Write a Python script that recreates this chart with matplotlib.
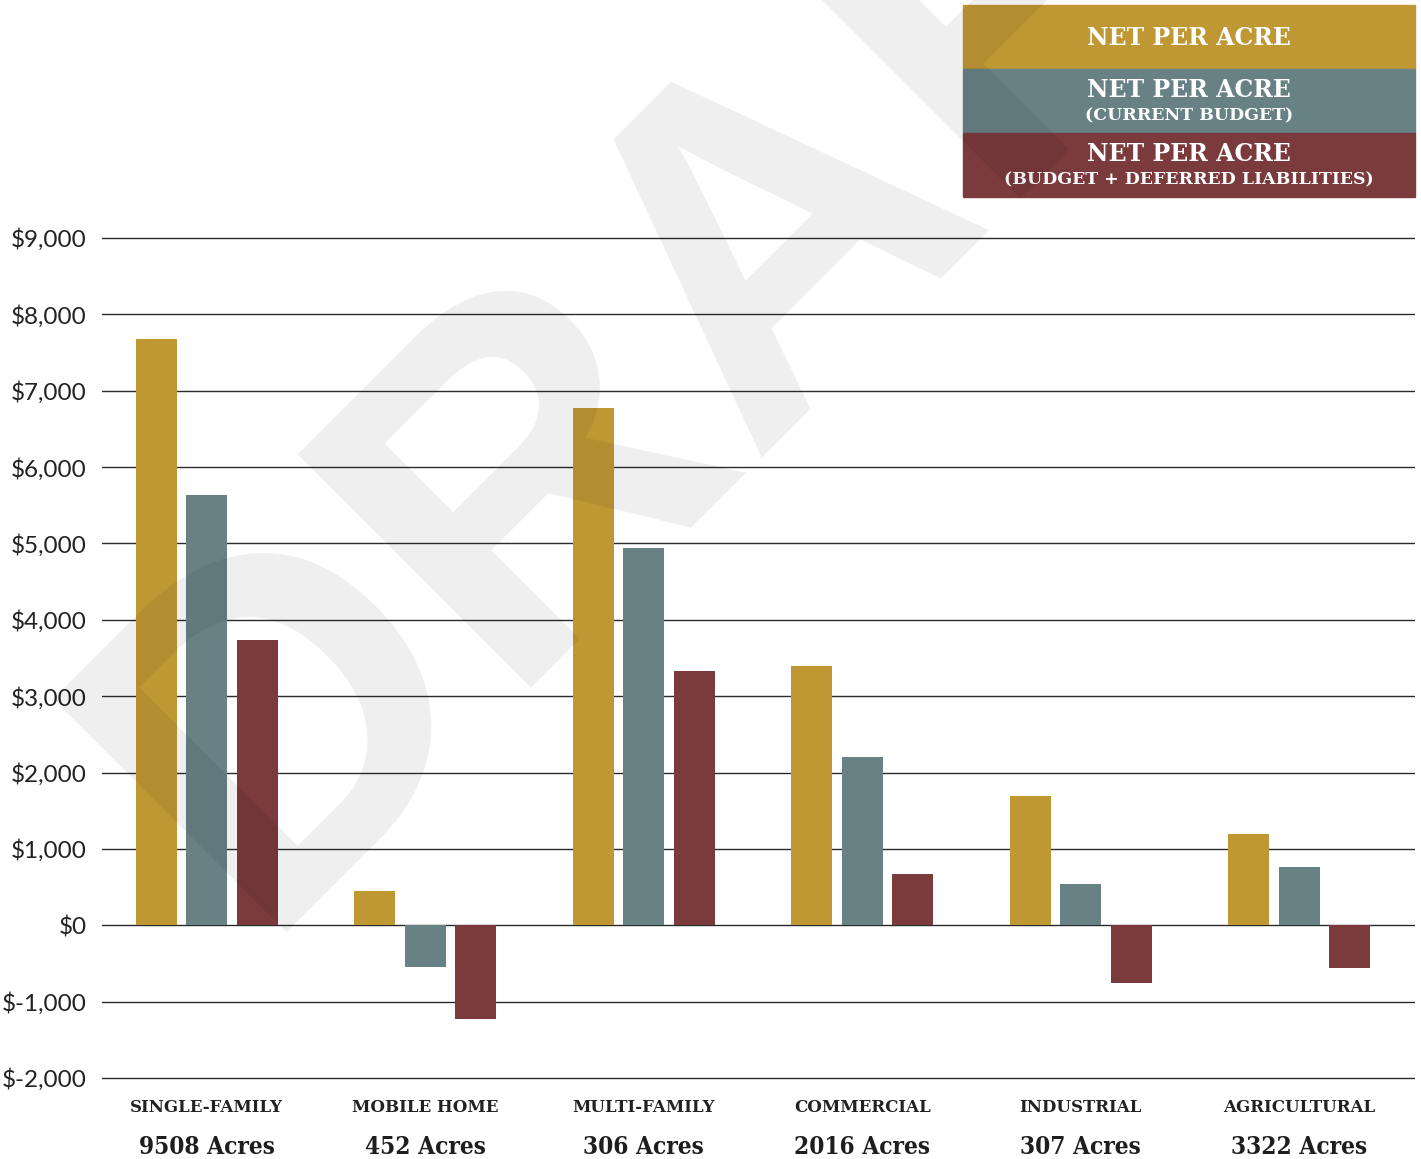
import matplotlib
matplotlib.use("Agg")
import matplotlib.pyplot as plt
import numpy as np
from matplotlib.patches import Rectangle
from matplotlib.transforms import blended_transform_factory

categories = ["SINGLE-FAMILY", "MOBILE HOME", "MULTI-FAMILY", "COMMERCIAL", "INDUSTRIAL", "AGRICULTURAL"]
acres = ["9508 Acres", "452 Acres", "306 Acres", "2016 Acres", "307 Acres", "3322 Acres"]
net_per_acre = [7680, 445, 6775, 3395, 1690, 1190]
net_current_budget = [5630, -550, 4940, 2200, 540, 760]
net_deferred = [3735, -1230, 3330, 670, -760, -565]
yticks = [-2000, -1000, 0, 1000, 2000, 3000, 4000, 5000, 6000, 7000, 8000, 9000]
ytick_labels = ["$-2,000", "$-1,000", "$0", "$1,000", "$2,000", "$3,000", "$4,000",
                "$5,000", "$6,000", "$7,000", "$8,000", "$9,000"]
legend_titles = ["NET PER ACRE", "NET PER ACRE", "NET PER ACRE"]
legend_subtitles = ["", "(CURRENT BUDGET)", "(BUDGET + DEFERRED LIABILITIES)"]

GOLD = "#BF9733"
TEAL = "#688185"
RED = "#7B3A3C"
colors = [GOLD, TEAL, RED]

W, H = 1421, 1159
fig = plt.figure(figsize=(W / 100, H / 100), dpi=100)
# axes: $9,000 at y=238 px, $-2,000 at y=1078 px; padded by 10 px each side
ppu = (1078 - 238) / 11000.0
pad_units = 10 / ppu
ax = fig.add_axes([102 / W, 1 - 1088 / H, (1415 - 102) / W, (1088 - 228) / H])

x = np.arange(len(categories))
bw = 0.188
off = 0.231
for i, (vals, c) in enumerate(zip([net_per_acre, net_current_budget, net_deferred], colors)):
    ax.bar(x + (i - 1) * off, vals, width=bw, color=c, zorder=3)

ax.set_xlim(-0.48, 5.53)
ax.set_ylim(-2000 - pad_units, 9000 + pad_units)
ax.set_yticks(yticks)
ax.set_yticklabels(ytick_labels, fontfamily="Lato", fontsize=17.5, color="#222222")
ax.tick_params(axis="y", length=0, pad=11)
ax.set_xticks([])
ax.yaxis.grid(True, color="#2a2a2a", linewidth=1.0, zorder=1)
ax.set_axisbelow(True)
for s in ax.spines.values():
    s.set_visible(False)

tr = blended_transform_factory(ax.transData, fig.transFigure)
for xi, cat, ac in zip(x, categories, acres):
    ax.text(xi, 1 - 1107 / H, cat, transform=tr, ha="center", va="center",
            fontfamily="DejaVu Serif", fontweight="bold", fontsize=12, color="#222222")
    ax.text(xi, 1 - 1147 / H, ac, transform=tr, ha="center", va="center",
            fontfamily="DejaVu Serif", fontweight="heavy", fontsize=17.5, fontstretch="condensed",
            color="#1e1e1e")

# legend boxes
lx0, lx1 = 963, 1415
tops = [5, 69, 133]
for (t, c, title, sub) in zip(tops, colors, legend_titles, legend_subtitles):
    fig.patches.append(Rectangle((lx0 / W, 1 - (t + 64) / H), (lx1 - lx0) / W, 64 / H,
                                 transform=fig.transFigure, color=c, zorder=5))
    cx = (lx0 + lx1) / 2 / W
    if sub:
        fig.text(cx, 1 - (t + 21) / H, title, ha="center", va="center", color="white",
                 fontfamily="DejaVu Serif", fontweight="bold", fontsize=17, zorder=6)
        fig.text(cx, 1 - (t + 47) / H, sub, ha="center", va="center", color="white",
                 fontfamily="DejaVu Serif", fontweight="bold", fontsize=12.5, zorder=6)
    else:
        fig.text(cx, 1 - (t + 33) / H, title, ha="center", va="center", color="white",
                 fontfamily="DejaVu Serif", fontweight="bold", fontsize=17, zorder=6)

# DRAFT watermark
fig.text(255 / W, 1 - 932 / H, "DRAFT", rotation=45, rotation_mode="anchor",
         ha="left", va="baseline", fontfamily="Liberation Sans", fontweight="bold",
         fontsize=345, color="black", alpha=0.065, zorder=10)

fig.savefig("out.png", dpi=100)
